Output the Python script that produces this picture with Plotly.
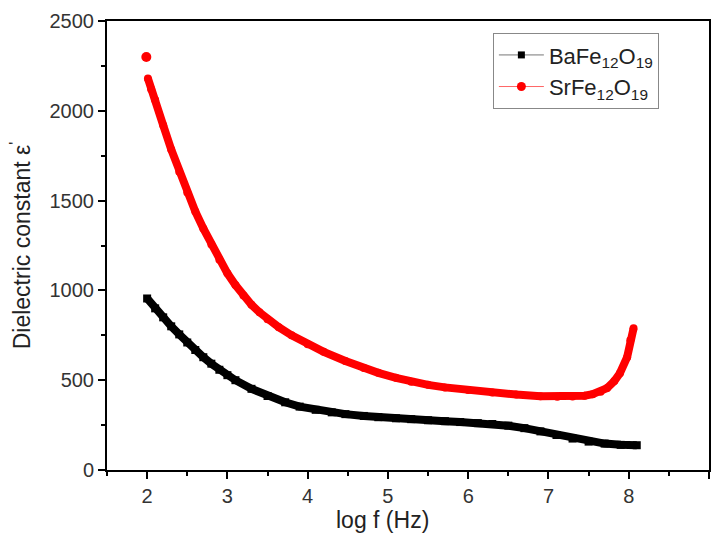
import plotly.graph_objects as go

# BaFe12O19
ba_x = [2.0, 2.1, 2.2, 2.3, 2.4, 2.5, 2.6, 2.7, 2.8, 2.9, 3.0, 3.1, 3.3, 3.5, 3.72,
        3.9, 4.1, 4.3, 4.47, 4.7, 4.88, 5.1, 5.29, 5.5, 5.71, 5.9, 6.12, 6.3, 6.5, 6.7,
        6.9, 7.1, 7.3, 7.5, 7.7, 7.9, 8.1]
ba_y = [955, 900, 850, 800, 755, 710, 668, 628, 592, 558, 528, 500, 452, 412, 377,
        353, 335, 321, 311, 301, 294, 288, 283, 277, 272, 267, 261, 256, 247, 233,
        215, 195, 175, 158, 147, 140, 138]

# SrFe12O19
sr_x = [1.99, 2.01, 2.05, 2.1, 2.2, 2.3, 2.4, 2.5, 2.6, 2.7, 2.8, 2.9, 3.0, 3.1, 3.2,
        3.3, 3.4, 3.5, 3.64, 3.8, 4.0, 4.2, 4.47, 4.7, 4.88, 5.1, 5.29, 5.5, 5.71, 6.0,
        6.3, 6.6, 6.9, 7.11, 7.3, 7.45, 7.55, 7.65, 7.73, 7.82, 7.89, 7.98, 8.02, 8.06]
sr_y = [2300, 2180, 2120, 2060, 1920, 1785, 1660, 1545, 1440, 1345, 1255, 1170, 1095, 1030, 972,
        920, 878, 840, 795, 750, 700, 658, 607, 568, 541, 513, 492, 474, 460, 445,
        432, 420, 411, 408, 409, 414, 422, 435, 456, 495, 539, 628, 722, 789]

x_ticks = [2, 3, 4, 5, 6, 7, 8, 9]
y_ticks = [0, 500, 1000, 1500, 2000, 2500]

ba_name = "BaFe<sub>12</sub>O<sub>19</sub>"
sr_name = "SrFe<sub>12</sub>O<sub>19</sub>"
FONT = "Liberation Sans, Arial"

fig = go.Figure()
fig.add_trace(go.Scatter(x=ba_x, y=ba_y, mode="lines+markers", showlegend=False,
                         line=dict(color="black", width=8),
                         marker=dict(symbol="square", size=8, color="black")))
fig.add_trace(go.Scatter(x=sr_x[1:], y=sr_y[1:], mode="lines+markers", showlegend=False,
                         line=dict(color="#ff0000", width=8),
                         marker=dict(symbol="circle", size=8, color="#ff0000")))
fig.add_trace(go.Scatter(x=sr_x[:1], y=sr_y[:1], mode="markers", showlegend=False,
                         marker=dict(symbol="circle", size=10, color="#ff0000")))
# legend entries
fig.add_trace(go.Scatter(x=[None], y=[None], mode="lines+markers", name=ba_name,
                         line=dict(color="#777777", width=1),
                         marker=dict(symbol="square", size=7, color="black")))
fig.add_trace(go.Scatter(x=[None], y=[None], mode="lines+markers", name=sr_name,
                         line=dict(color="#ff6666", width=1),
                         marker=dict(symbol="circle", size=9, color="#ff0000")))

axis_common = dict(showline=True, linecolor="black", linewidth=2, mirror=True,
                   ticks="outside", ticklen=7, tickwidth=2, tickcolor="black",
                   showgrid=False, zeroline=False,
                   tickfont=dict(family=FONT, size=20, color="#333333"))

fig.update_xaxes(range=[1.5, 9], tickvals=x_ticks,
                 minor=dict(dtick=0.5, ticks="outside", ticklen=4, tickwidth=2, tickcolor="black"),
                 **axis_common)
fig.update_yaxes(range=[0, 2500], tickvals=y_ticks,
                 minor=dict(dtick=250, ticks="outside", ticklen=4, tickwidth=2, tickcolor="black"),
                 title=dict(text="Dielectric constant ε<sup>'</sup>", standoff=12,
                            font=dict(family=FONT, size=23, color="#222222")),
                 **axis_common)

fig.add_annotation(text="log f (Hz)", xref="paper", yref="paper", x=0.458, y=-0.111,
                   xanchor="center", yanchor="middle", showarrow=False,
                   font=dict(family=FONT, size=23, color="#222222"))

fig.update_layout(
    width=713, height=535,
    margin=dict(l=107, r=2, t=21, b=65),
    plot_bgcolor="white", paper_bgcolor="white",
    legend=dict(x=0.641, y=0.973, xanchor="left", yanchor="top",
                bordercolor="#888888", borderwidth=1, bgcolor="white",
                font=dict(family=FONT, size=22, color="#222222"),
                itemwidth=45, tracegroupgap=0),
)

fig.write_html("out.html", config={"displayModeBar": False},
               post_script="document.body.style.margin='0';document.body.style.overflow='hidden';")
